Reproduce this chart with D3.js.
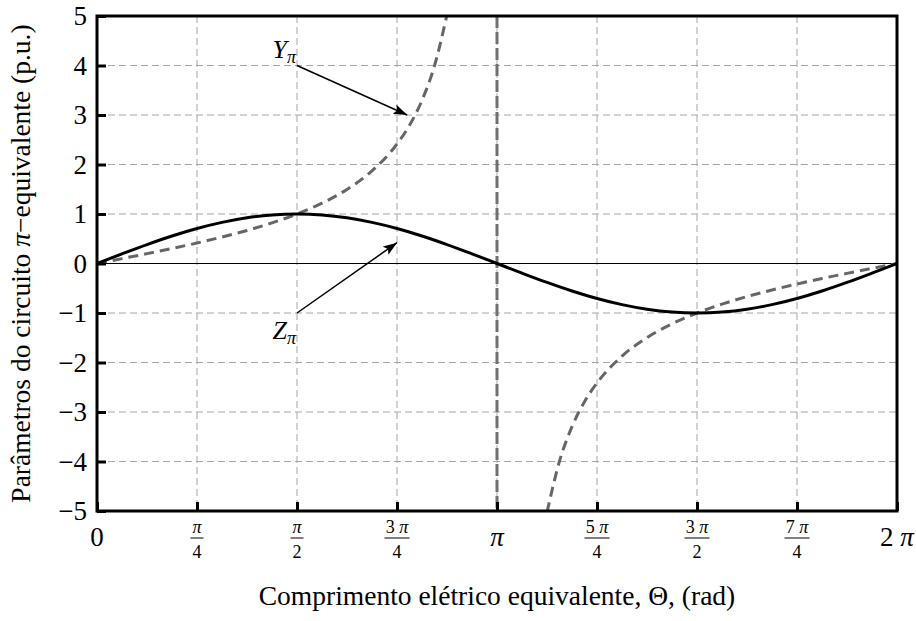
<!DOCTYPE html>
<html>
<head>
<meta charset="utf-8">
<script src="https://cdn.jsdelivr.net/npm/d3@7"></script>
<style>
  body { margin: 0; background: #fff; }
  svg text { font-family: 'Liberation Serif', 'Times New Roman', serif; fill: #000; }
</style>
</head>
<body>
<div id="chart"></div>
<script>
// ----- data (theta in multiples of pi) ----- //
var thetaZ = [0, 0.0625, 0.125, 0.1875, 0.25, 0.3125, 0.375, 0.4375, 0.5, 0.5625, 0.625, 0.6875, 0.75, 0.8125, 0.875, 0.9375, 1,
              1.0625, 1.125, 1.1875, 1.25, 1.3125, 1.375, 1.4375, 1.5, 1.5625, 1.625, 1.6875, 1.75, 1.8125, 1.875, 1.9375, 2];
var zPi = [0, 0.195, 0.383, 0.556, 0.707, 0.831, 0.924, 0.981, 1, 0.981, 0.924, 0.831, 0.707, 0.556, 0.383, 0.195, 0,
           -0.195, -0.383, -0.556, -0.707, -0.831, -0.924, -0.981, -1, -0.981, -0.924, -0.831, -0.707, -0.556, -0.383, -0.195, 0];

var thetaY1 = [0, 0.0625, 0.125, 0.1875, 0.25, 0.3125, 0.375, 0.4375, 0.5, 0.5625, 0.625, 0.6875, 0.75, 0.78125, 0.8125, 0.84375, 0.875];
var yPi1 = [0, 0.099, 0.199, 0.303, 0.414, 0.535, 0.668, 0.821, 1, 1.219, 1.497, 1.871, 2.414, 2.791, 3.297, 3.994, 5.027];

var thetaY2 = [1.125, 1.15625, 1.1875, 1.21875, 1.25, 1.3125, 1.375, 1.4375, 1.5, 1.5625, 1.625, 1.6875, 1.75, 1.8125, 1.875, 1.9375, 2];
var yPi2 = [-5.027, -3.994, -3.297, -2.791, -2.414, -1.871, -1.497, -1.219, -1, -0.821, -0.668, -0.535, -0.414, -0.303, -0.199, -0.099, 0];

var yTicks = [-5, -4, -3, -2, -1, 0, 1, 2, 3, 4, 5];
var xTicks = [0, 0.25, 0.5, 0.75, 1, 1.25, 1.5, 1.75, 2];
var xTickNum = ["0", "π", "π", "3 π", "π", "5 π", "3 π", "7 π", "2 π"];
var xTickDen = ["", "4", "2", "4", "", "4", "2", "4", ""];

// annotations: label at (x0,y0), arrow tip at (x1,y1)
var annotations = [
    { name: "Y", x0: 0.5, y0: 4, x1: 0.7755, y1: 3.0 },
    { name: "Z", x0: 0.5, y0: -1, x1: 0.75, y1: 0.42 }
];

var FONT = "'Liberation Serif', 'Times New Roman', serif";

// ----- svg ----- //
var W = 916, H = 621;
var margin = { left: 97, top: 16, right: 19, bottom: 110 };
var pw = W - margin.left - margin.right;
var ph = H - margin.top - margin.bottom;

var svg = d3.select("#chart").append("svg")
    .attr("width", W)
    .attr("height", H);

var defs = svg.append("defs");
defs.append("clipPath")
    .attr("id", "clip")
    .append("rect")
    .attr("width", pw)
    .attr("height", ph);

defs.append("marker")
    .attr("id", "arrow")
    .attr("viewBox", "0 0 14 10")
    .attr("refX", 14)
    .attr("refY", 5)
    .attr("markerWidth", 14)
    .attr("markerHeight", 10)
    .attr("markerUnits", "userSpaceOnUse")
    .attr("orient", "auto")
    .append("path")
    .attr("d", "M0,0 L14,5 L0,10 L3,5 Z")
    .attr("fill", "#000");

var g = svg.append("g")
    .attr("transform", "translate(" + margin.left + "," + margin.top + ")");

var x = d3.scaleLinear().domain([0, 2]).range([0, pw]);
var y = d3.scaleLinear().domain([-5, 5]).range([ph, 0]);

// ----- grid ----- //
g.append("g")
    .selectAll("line")
    .data(xTicks.slice(1, -1))
    .enter().append("line")
    .attr("x1", d => x(d)).attr("x2", d => x(d))
    .attr("y1", 0).attr("y2", ph)
    .attr("stroke", "#a6a6a6")
    .attr("stroke-width", 1)
    .attr("stroke-dasharray", "7,4");

g.append("g")
    .selectAll("line")
    .data(yTicks.slice(1, -1).filter(d => d !== 0))
    .enter().append("line")
    .attr("x1", 0).attr("x2", pw)
    .attr("y1", d => y(d)).attr("y2", d => y(d))
    .attr("stroke", "#a6a6a6")
    .attr("stroke-width", 1)
    .attr("stroke-dasharray", "7,4");

// zero line
g.append("line")
    .attr("x1", 0).attr("x2", pw)
    .attr("y1", y(0)).attr("y2", y(0))
    .attr("stroke", "#000")
    .attr("stroke-width", 1);

// ----- curves ----- //
var lineGen = d3.line()
    .x(d => x(d[0]))
    .y(d => y(d[1]))
    .curve(d3.curveMonotoneX);

var plot = g.append("g").attr("clip-path", "url(#clip)");

// asymptote of Y at pi
plot.append("line")
    .attr("x1", x(1)).attr("x2", x(1))
    .attr("y1", 0).attr("y2", ph)
    .attr("stroke", "#707070")
    .attr("stroke-width", 3)
    .attr("stroke-dasharray", "12,4");

[d3.zip(thetaY1, yPi1), d3.zip(thetaY2, yPi2)].forEach(function (pts) {
    plot.append("path")
        .attr("d", lineGen(pts))
        .attr("fill", "none")
        .attr("stroke", "#666")
        .attr("stroke-width", 3)
        .attr("stroke-dasharray", "10,6");
});

plot.append("path")
    .attr("d", lineGen(d3.zip(thetaZ, zPi)))
    .attr("fill", "none")
    .attr("stroke", "#000")
    .attr("stroke-width", 3);

// ----- annotations ----- //
annotations.forEach(function (a) {
    g.append("line")
        .attr("x1", x(a.x0)).attr("y1", y(a.y0))
        .attr("x2", x(a.x1)).attr("y2", y(a.y1))
        .attr("stroke", "#000")
        .attr("stroke-width", 1.5)
        .attr("marker-end", "url(#arrow)");

    var t = g.append("text")
        .attr("x", x(a.x0) - 1)
        .attr("y", a.y0 > 0 ? y(a.y0) - 8 : y(a.y0) + 26)
        .attr("text-anchor", "end")
        .style("font-size", "26px")
        .style("font-style", "italic");
    t.append("tspan").text(a.name);
    t.append("tspan")
        .attr("dy", 5)
        .style("font-size", "18px")
        .text("π");
});

// ----- axes (ticks inward) ----- //
var yAxis = g.append("g")
    .call(d3.axisLeft(y).tickValues(yTicks).tickSize(-9).tickFormat(""));
yAxis.selectAll(".tick line").attr("stroke", "#000").attr("stroke-width", 3);

var xAxis = g.append("g")
    .attr("transform", "translate(0," + ph + ")")
    .call(d3.axisBottom(x).tickValues(xTicks).tickSize(-9).tickFormat(""));
xAxis.selectAll(".tick line").attr("stroke", "#000").attr("stroke-width", 3);
svg.selectAll(".domain").remove();

// frame
g.append("rect")
    .attr("x", 0).attr("y", 0)
    .attr("width", pw).attr("height", ph)
    .attr("fill", "none")
    .attr("stroke", "#000")
    .attr("stroke-width", 3);

// y tick labels
g.append("g")
    .selectAll("text")
    .data(yTicks)
    .enter().append("text")
    .attr("x", -10)
    .attr("y", d => y(d))
    .attr("dy", "0.34em")
    .attr("text-anchor", "end")
    .style("font-size", "27px")
    .text(d => d < 0 ? "\u2212" + Math.abs(d) : d);

// x tick labels
xTicks.forEach(function (v, i) {
    var cx = x(v);
    if (xTickDen[i] === "") {
        var t = g.append("text")
            .attr("x", cx)
            .attr("y", ph + 35)
            .attr("text-anchor", "middle")
            .style("font-size", "27px");
        if (i === 0) {
            t.text(xTickNum[i]);
        } else {
            var parts = xTickNum[i].split(" ");
            if (parts.length > 1) t.append("tspan").text(parts[0] + " ");
            t.append("tspan").style("font-style", "italic").text("π");
        }
    } else {
        var num = g.append("text")
            .attr("x", cx)
            .attr("y", ph + 22)
            .attr("text-anchor", "middle")
            .style("font-size", "18px");
        var np = xTickNum[i].split(" ");
        if (np.length > 1) num.append("tspan").text(np[0] + " ");
        num.append("tspan").style("font-style", "italic").text("π");
        var bw = np.length > 1 ? 25 : 13;
        g.append("line")
            .attr("x1", cx - bw / 2).attr("x2", cx + bw / 2)
            .attr("y1", ph + 27).attr("y2", ph + 27)
            .attr("stroke", "#000")
            .attr("stroke-width", 1);
        g.append("text")
            .attr("x", cx)
            .attr("y", ph + 47)
            .attr("text-anchor", "middle")
            .style("font-size", "18px")
            .text(xTickDen[i]);
    }
});

// axis titles
svg.append("text")
    .attr("x", margin.left + pw / 2)
    .attr("y", 605)
    .attr("text-anchor", "middle")
    .style("font-size", "27.5px")
    .text("Comprimento elétrico equivalente, Θ, (rad)");

var yt = svg.append("text")
    .attr("transform", "translate(30," + (margin.top + ph / 2) + ") rotate(-90)")
    .attr("text-anchor", "middle")
    .style("font-size", "27.5px");
yt.append("tspan").text("Parâmetros do circuito ");
yt.append("tspan").style("font-style", "italic").text("π");
yt.append("tspan").text("\u2212equivalente (p.u.)");

svg.selectAll("text").style("font-family", FONT);
</script>
</body>
</html>
